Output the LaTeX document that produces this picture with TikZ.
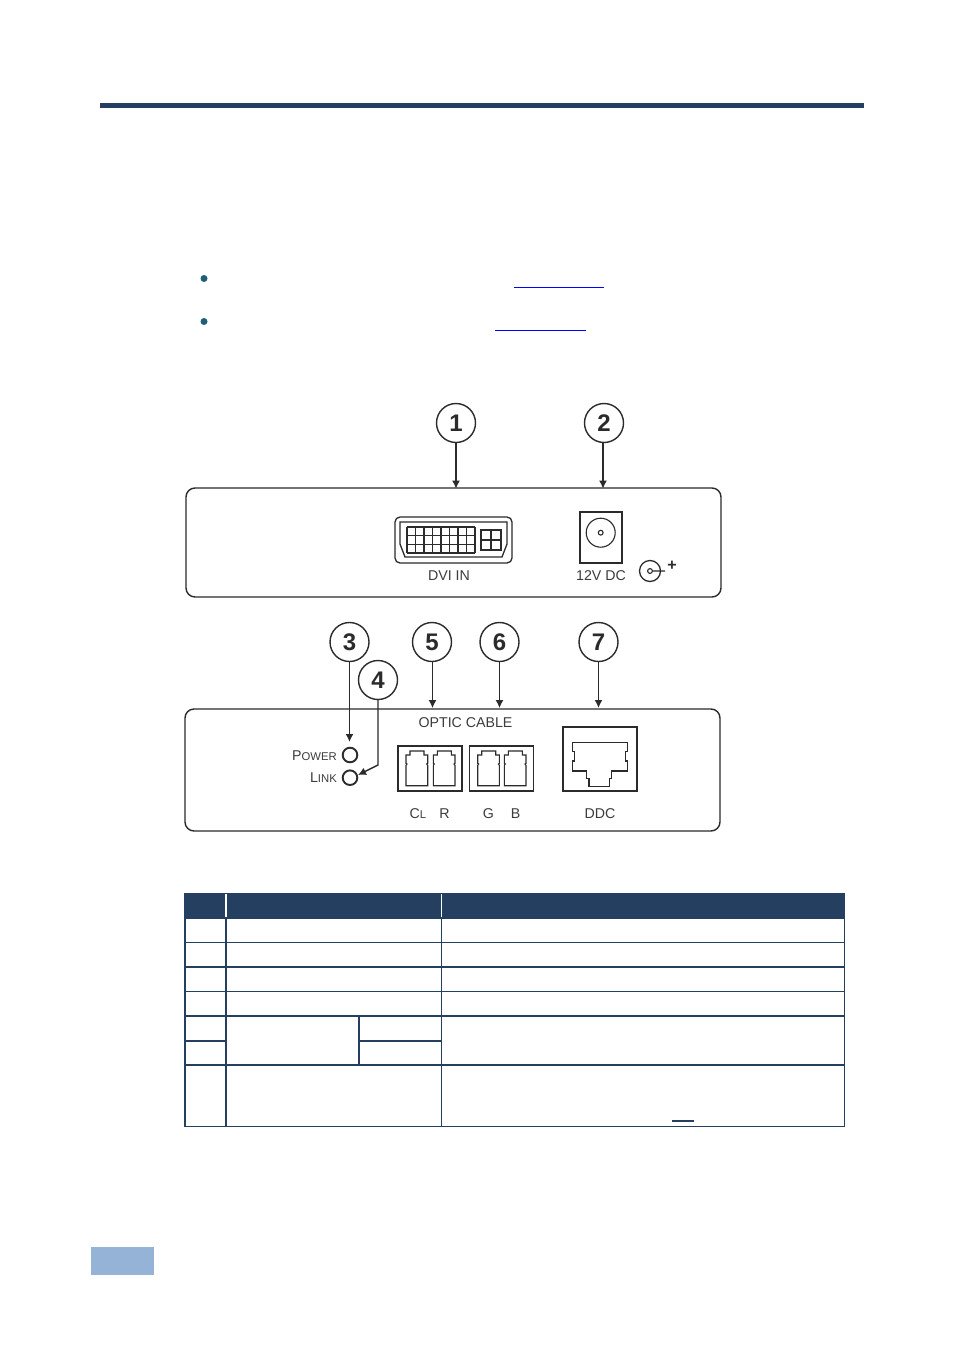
\documentclass[tikz,border=0pt]{standalone}
\usepackage{fontspec}
\setmainfont{Liberation Sans}
\usetikzlibrary{arrows.meta}
\definecolor{navy}{HTML}{243F60}
\definecolor{tabblue}{HTML}{95B3D7}
\definecolor{bul}{HTML}{215E78}
\definecolor{ink}{HTML}{2B2B2B}
\definecolor{lab}{HTML}{3C3C3C}
\definecolor{linkblue}{HTML}{0000FF}
\newcommand{\opticplug}[2]{%
  \begin{scope}[shift={(#1,#2)}]
    \draw[plug] (4,0)--(18,0)--(18,4)--(21.7,4)--(21.7,12.3)--(20.7,13)--(21.7,14.3)--(21.7,34.7)--(0,34.7)--(0,14.3)--(1,13)--(0,12.3)--(0,4)--(4,4)--cycle;
  \end{scope}}
\tikzset{
  callout/.style={circle,draw=ink,line width=1.4pt,fill=white,minimum size=39pt,inner sep=0pt,font=\fontsize{24}{24}\selectfont\bfseries,text=ink},
  lead/.style={draw=ink,line width=1.2pt,-{Latex[length=8pt,width=8pt]}},
  panel/.style={draw=ink,line width=1.4pt,rounded corners=9pt,inner sep=0pt},
  lbl/.style={text=lab,inner sep=0pt,font=\fontsize{14.2}{15}\selectfont},
  plug/.style={draw=ink,line width=1.1pt},
  grid line/.style={draw=ink,line width=1.5pt},
  thinrow/.style={draw=navy,line width=1pt},
  thickrow/.style={draw=navy,line width=2pt},
}
\begin{document}
\begin{tikzpicture}[x=1pt,y=-1pt]
\useasboundingbox (0,0) rectangle (954,1354);
\fill[white] (0,0) rectangle (954,1354);
% page furniture
\fill[navy] (100,103) rectangle (864,108);
\fill[tabblue] (91,1247) rectangle (154,1275);
\fill[bul] (204,278.5) circle (3.5);
\fill[bul] (204,321.5) circle (3.5);
\draw[linkblue,line width=1.3pt] (514,287.5)--(604,287.5);
\draw[linkblue,line width=1.3pt] (495,330.2)--(586,330.2);
% panels
\node[panel,minimum width=535pt,minimum height=109pt] (top) at (453.5,542.5) {};
\node[panel,minimum width=535pt,minimum height=122pt] (bot) at (452.5,770) {};
% callouts
\node[callout] (c1) at (456,423) {1};
\node[callout] (c2) at (604,423) {2};
\node[callout] (c3) at (349.5,642) {3};
\node[callout] (c5) at (432,642) {5};
\node[callout] (c6) at (499.5,642) {6};
\node[callout] (c7) at (598.5,642) {7};
\node[callout] (c4) at (378,680) {4};
% anchors on the panels
\coordinate (t1) at (456,488.5);
\coordinate (t2) at (603,488.5);
\coordinate (b5) at (432.5,708);
\coordinate (b6) at (499.5,708);
\coordinate (b7) at (598.5,708);
\coordinate (p3) at (349.5,742);
\coordinate (k4) at (378,765);
\coordinate (l4) at (358,775);
\draw[lead] (456,442.5) -- (t1);
\draw[lead] (603,442.5) -- (t2);
\draw[lead] (432.5,661.5) -- (b5);
\draw[lead] (499.5,661.5) -- (b6);
\draw[lead,line width=1.5pt] (598.5,661.5) -- (b7);
\draw[lead,line width=1.5pt] (349.5,661.5) -- (p3);
\draw[lead,line width=1.4pt] (378,699.5) -- (k4) -- (l4);
% DVI connector
\draw[draw=ink,line width=1.3pt,rounded corners=5pt] (395,517) rectangle (512,563);
\draw[draw=ink,line width=1.3pt] (400,522) -- (507,522) -- (507,544) -- (502,557) -- (405,557) -- (400,544) -- cycle;
\foreach \i in {0,...,8} \draw[grid line] ({407+\i*8.5},527) -- ({407+\i*8.5},553);
\foreach \j in {0,...,3} \draw[grid line] (407,{527+\j*8.67}) -- (475,{527+\j*8.67});
\draw[grid line] (481,530) rectangle (501,550);
\draw[draw=ink,line width=2pt] (491,530) -- (491,550) (481,540) -- (501,540);
\node[lbl] (dvi) at (449,575.5) {DVI IN};
% DC jack
\draw[draw=ink,line width=2pt] (579.5,512) rectangle (622,563);
\draw[draw=ink,line width=1.1pt] (600.7,532.7) circle (14.5);
\draw[draw=ink,line width=1.1pt] (600.7,532.7) circle (2.4);
\node[lbl] (dc) at (601,575.5) {12V DC};
\draw[draw=ink,line width=1.3pt] (650,571) circle (10.5);
\draw[draw=ink,line width=1.1pt] (650,571) circle (2.4) (652.4,571) -- (665,571);
\node[text=ink,inner sep=0pt,font=\fontsize{16}{16}\selectfont\bfseries] (plus) at (672,566) {+};
% LEDs
\draw[draw=ink,line width=1.9pt] (350,755) circle (7.3);
\draw[draw=ink,line width=1.9pt] (350,777.7) circle (7.3);
\node[lbl,anchor=east] (pw) at (337,755.5) {P{\fontsize{11.3}{12}\selectfont OWER}};
\node[lbl,anchor=east] (lk) at (337,777.5) {L{\fontsize{11.3}{12}\selectfont INK}};
% Optic
\node[lbl] (oc) at (465.5,722.5) {OPTIC CABLE};
\draw[draw=ink,line width=1.3pt] (398,746) rectangle (462,791);
\draw[draw=ink,line width=1.3pt] (469.3,746) rectangle (533.3,791);
\opticplug{406}{751}
\opticplug{433.3}{751}
\opticplug{477.7}{751}
\opticplug{504.3}{751}
\node[lbl] (cl) at (418,813.5) {C{\fontsize{11.3}{12}\selectfont L}};
\node[lbl] (r) at (444.5,813.5) {R};
\node[lbl] (g) at (488.5,813.5) {G};
\node[lbl] (b) at (515.5,813.5) {B};
\node[lbl] (ddc) at (600,813.5) {DDC};
% RJ jack
\draw[draw=ink,line width=2.3pt] (563,727.3) rectangle (636.7,791);
\begin{scope}[shift={(540,700)},x=0.3333pt,y=-0.3333pt]
\draw[plug] (97,127)--(262,127)--(262,155)--(256,155)--(256,183)--(262,183)--(262,213)--(215,213)--(215,236)--(208,236)--(208,260)--(147,260)--(147,236)--(140,236)--(140,213)--(97,213)--(97,183)--(103,183)--(103,155)--(97,155)--cycle;
\end{scope}
% table
\fill[navy] (184,893) rectangle (845,918.5);
\draw[white,line width=1.1pt] (226,894) -- (226,917);
\draw[white,line width=1pt] (441.7,894) -- (441.7,917);
\draw[thinrow] (184,942.5) -- (845,942.5);
\draw[thickrow] (184,966.8) -- (845,966.8);
\draw[thinrow] (184,991.5) -- (845,991.5);
\draw[thickrow] (184,1016) -- (845,1016);
\draw[thickrow] (184,1040.7) -- (226,1040.7);
\draw[thickrow] (359,1040.7) -- (441.7,1040.7);
\draw[thickrow] (184,1065) -- (845,1065);
\draw[thinrow] (184,1126.4) -- (845,1126.4);
\draw[thickrow] (185,918) -- (185,1127);
\draw[thickrow] (226,918) -- (226,1127);
\draw[thinrow] (441.7,918) -- (441.7,1127);
\draw[thickrow] (358.7,1016) -- (358.7,1065);
\draw[thinrow] (844.5,918) -- (844.5,1127);
\draw[navy,line width=1.2pt] (672,1121) -- (694,1121);
\end{tikzpicture}
\end{document}
